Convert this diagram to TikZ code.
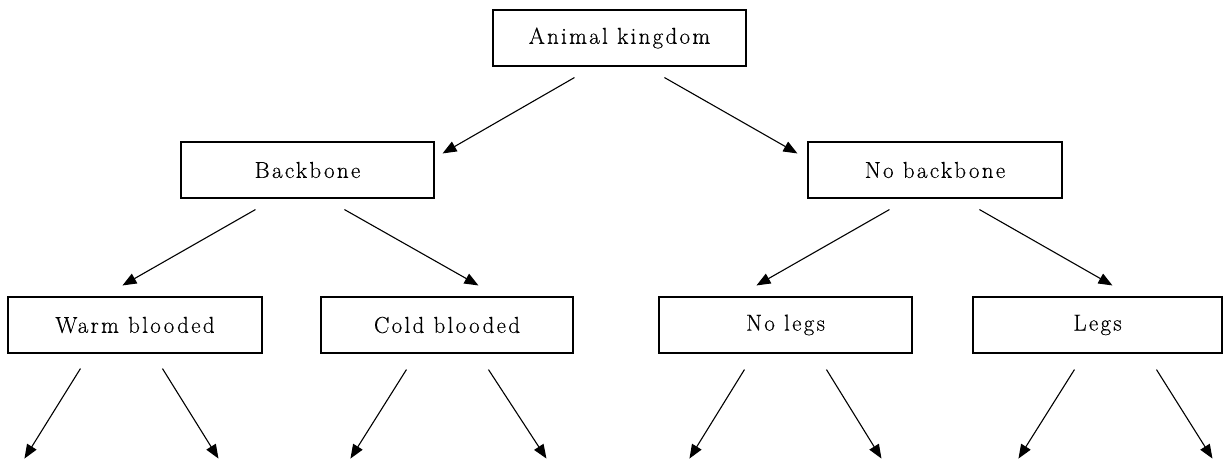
\documentclass[tikz,border=0pt]{standalone}
\usepackage{fontspec}
\setmainfont{Latin Modern Roman}[LetterSpace=10,FakeBold=0.4]
\usetikzlibrary{arrows.meta,calc}
\tikzset{
  box/.style={draw=black,line width=1.1pt,minimum width=253pt,minimum height=56pt,inner sep=0pt,
              font=\fontsize{23}{27}\selectfont},
  arr/.style={draw=black,line width=1.1pt,-{Triangle[length=14pt,width=11pt]}}
}
\begin{document}
\begin{tikzpicture}[x=1pt,y=-1pt]
\useasboundingbox (0,0) rectangle (1225,459);
\node[box] (ak) at (619.5,38) {Animal kingdom};
\node[box] (bb) at (307.5,170) {Backbone};
\node[box,minimum width=254pt] (nb) at (935,170) {No backbone};
\node[box,minimum width=254pt] (wb) at (135,325) {Warm blooded};
\node[box,minimum width=252pt] (cb) at (447,325) {Cold blooded};
\node[box] (nl) at (785.5,325) {No legs};
\node[box,minimum width=249pt] (lg) at (1097.5,325) {Legs};
% free ends
\coordinate (wb1) at ($(wb.south west)+(17,105)$);
\coordinate (wb2) at ($(wb.south west)+(211,105)$);
\coordinate (cb1) at ($(cb.south west)+(30,105)$);
\coordinate (cb2) at ($(cb.south west)+(226,105)$);
\coordinate (nl1) at ($(nl.south west)+(31,105)$);
\coordinate (nl2) at ($(nl.south west)+(223,105)$);
\coordinate (lg1) at ($(lg.south west)+(46,105)$);
\coordinate (lg2) at ($(lg.south west)+(240,105)$);
% level 1
\draw[arr] ($(ak.south west)+(82,11)$) -- ($(bb.north east)+(8,12)$);
\draw[arr] ($(ak.south west)+(172,11)$) -- ($(nb.north west)+(-10,12)$);
% level 2
\draw[arr] ($(bb.south west)+(75,11)$) -- ($(wb.north west)+(115,-11)$);
\draw[arr] ($(bb.south west)+(164,11)$) -- ($(cb.north west)+(158,-11)$);
\draw[arr] ($(nb.south west)+(82,11)$) -- ($(nl.north west)+(98,-11)$);
\draw[arr] ($(nb.south west)+(172,11)$) -- ($(lg.north west)+(140,-11)$);
% level 3
\draw[arr] ($(wb.south west)+(73,15)$) -- (wb1);
\draw[arr] ($(wb.south west)+(155,15)$) -- (wb2);
\draw[arr] ($(cb.south west)+(86,16)$) -- (cb1);
\draw[arr] ($(cb.south west)+(168,16)$) -- (cb2);
\draw[arr] ($(nl.south west)+(86,16)$) -- (nl1);
\draw[arr] ($(nl.south west)+(168,16)$) -- (nl2);
\draw[arr] ($(lg.south west)+(102,16)$) -- (lg1);
\draw[arr] ($(lg.south west)+(184,16)$) -- (lg2);
\end{tikzpicture}
\end{document}
